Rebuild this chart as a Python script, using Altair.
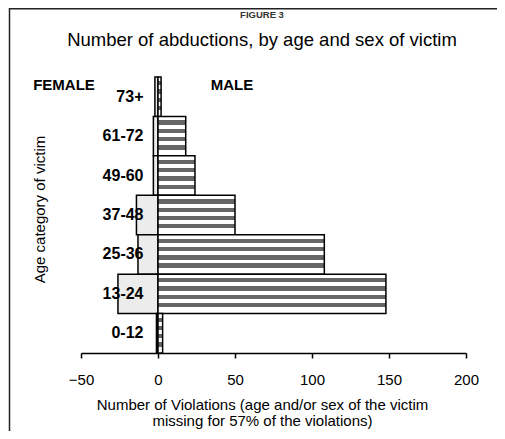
import altair as alt
import pandas as pd

# ---- data ----
ages = ["73+", "61-72", "49-60", "37-48", "25-36", "13-24", "0-12"]
female = [-2, -3, -3, -14, -13, -26, -1]
male = [2, 18, 24, 50, 108, 148, 3]
x_ticks = [-50, 0, 50, 100, 150, 200]

df = pd.DataFrame({
    "age": ages * 2,
    "sex": ["Female"] * len(ages) + ["Male"] * len(ages),
    "value": female + male,
})

FONT = "Liberation Sans"
W, H = 385, 276

# horizontal hatch rows for the male bars (all bars share one band height)
rows = [(0.10, 0.21), (0.31, 0.42), (0.52, 0.63), (0.73, 0.84)]
stops = [alt.GradientStop(offset=0, color="white")]
for a, b in rows:
    stops += [alt.GradientStop(offset=a, color="white"),
              alt.GradientStop(offset=a, color="#666666"),
              alt.GradientStop(offset=b, color="#666666"),
              alt.GradientStop(offset=b, color="white")]
stops.append(alt.GradientStop(offset=1, color="white"))
male_fill = alt.Gradient(gradient="linear", x1=0, x2=0, y1=0, y2=1, stops=stops)

x_enc = alt.X(
    "value:Q",
    scale=alt.Scale(domain=[-50, 200], nice=False),
    axis=alt.Axis(
        values=x_ticks, grid=False, domainColor="black", domainWidth=1.5,
        tickColor="black", tickWidth=1.5, tickSize=5, labelFlush=False,
        labelFont=FONT, labelFontSize=15, labelColor="black", labelPadding=14,
        title=["Number of Violations (age and/or sex of the victim",
               "missing for 57% of the violations)"],
        titleFont=FONT, titleFontSize=15, titleFontWeight="normal", titleColor="black",
        titleX=181, titleY=44, titleAlign="center", titleBaseline="top",
        titleLineHeight=16.5,
    ),
)
y_enc = alt.Y(
    "age:N", sort=ages,
    scale=alt.Scale(paddingInner=0, paddingOuter=0),
    axis=alt.Axis(
        domain=False, ticks=False, labelPadding=-62,
        labelFont=FONT, labelFontSize=16, labelFontWeight="bold", labelColor="black",
        zindex=1,
        title="Age category of victim", titleFont=FONT, titleFontSize=15,
        titleFontWeight="normal", titleColor="black", titleAngle=270,
        titleX=-42, titleY=132, titleAlign="center", titleBaseline="middle",
    ),
)

base = alt.Chart(df).encode(x=x_enc, y=y_enc)
fem = base.transform_filter(alt.datum.sex == "Female").mark_bar(
    fill="#ececec", stroke="black", strokeWidth=1.5)
mal = base.transform_filter(alt.datum.sex == "Male").mark_bar(
    fill=male_fill, stroke="black", strokeWidth=1.5)

one = alt.Data(values=[{"a": 0}])


def label(text, x, y, size, weight="normal", color="black"):
    return alt.Chart(one).mark_text(
        text=text, font=FONT, fontSize=size, fontWeight=weight, color=color,
        align="center", baseline="middle",
    ).encode(x=alt.value(x), y=alt.value(y))


fig_lbl = label("FIGURE 3", 181, -62, 9.5, "bold", "#333333")
title_lbl = label("Number of abductions, by age and sex of victim", 181, -37, 18.5)
female_lbl = label("FEMALE", -17, 8, 15, "bold")
male_lbl = label("MALE", 151, 8, 15, "bold")

border_left = alt.Chart(one).mark_rule(color="#222222", strokeWidth=1.5).encode(
    x=alt.value(-71.5), y=alt.value(-69), y2=alt.value(354))
border_top = alt.Chart(one).mark_rule(color="#222222", strokeWidth=1.5).encode(
    x=alt.value(-71.5), x2=alt.value(416), y=alt.value(-68.25))

chart = alt.layer(
    fem, mal, fig_lbl, title_lbl, female_lbl, male_lbl, border_left, border_top
).properties(
    width=W, height=H,
    autosize=alt.AutoSizeParams(type="none"),
    padding={"left": 73, "top": 69, "right": 31, "bottom": 78},
).configure_view(stroke=None)

chart.save("out.html", embed_options={"renderer": "svg", "actions": False})
